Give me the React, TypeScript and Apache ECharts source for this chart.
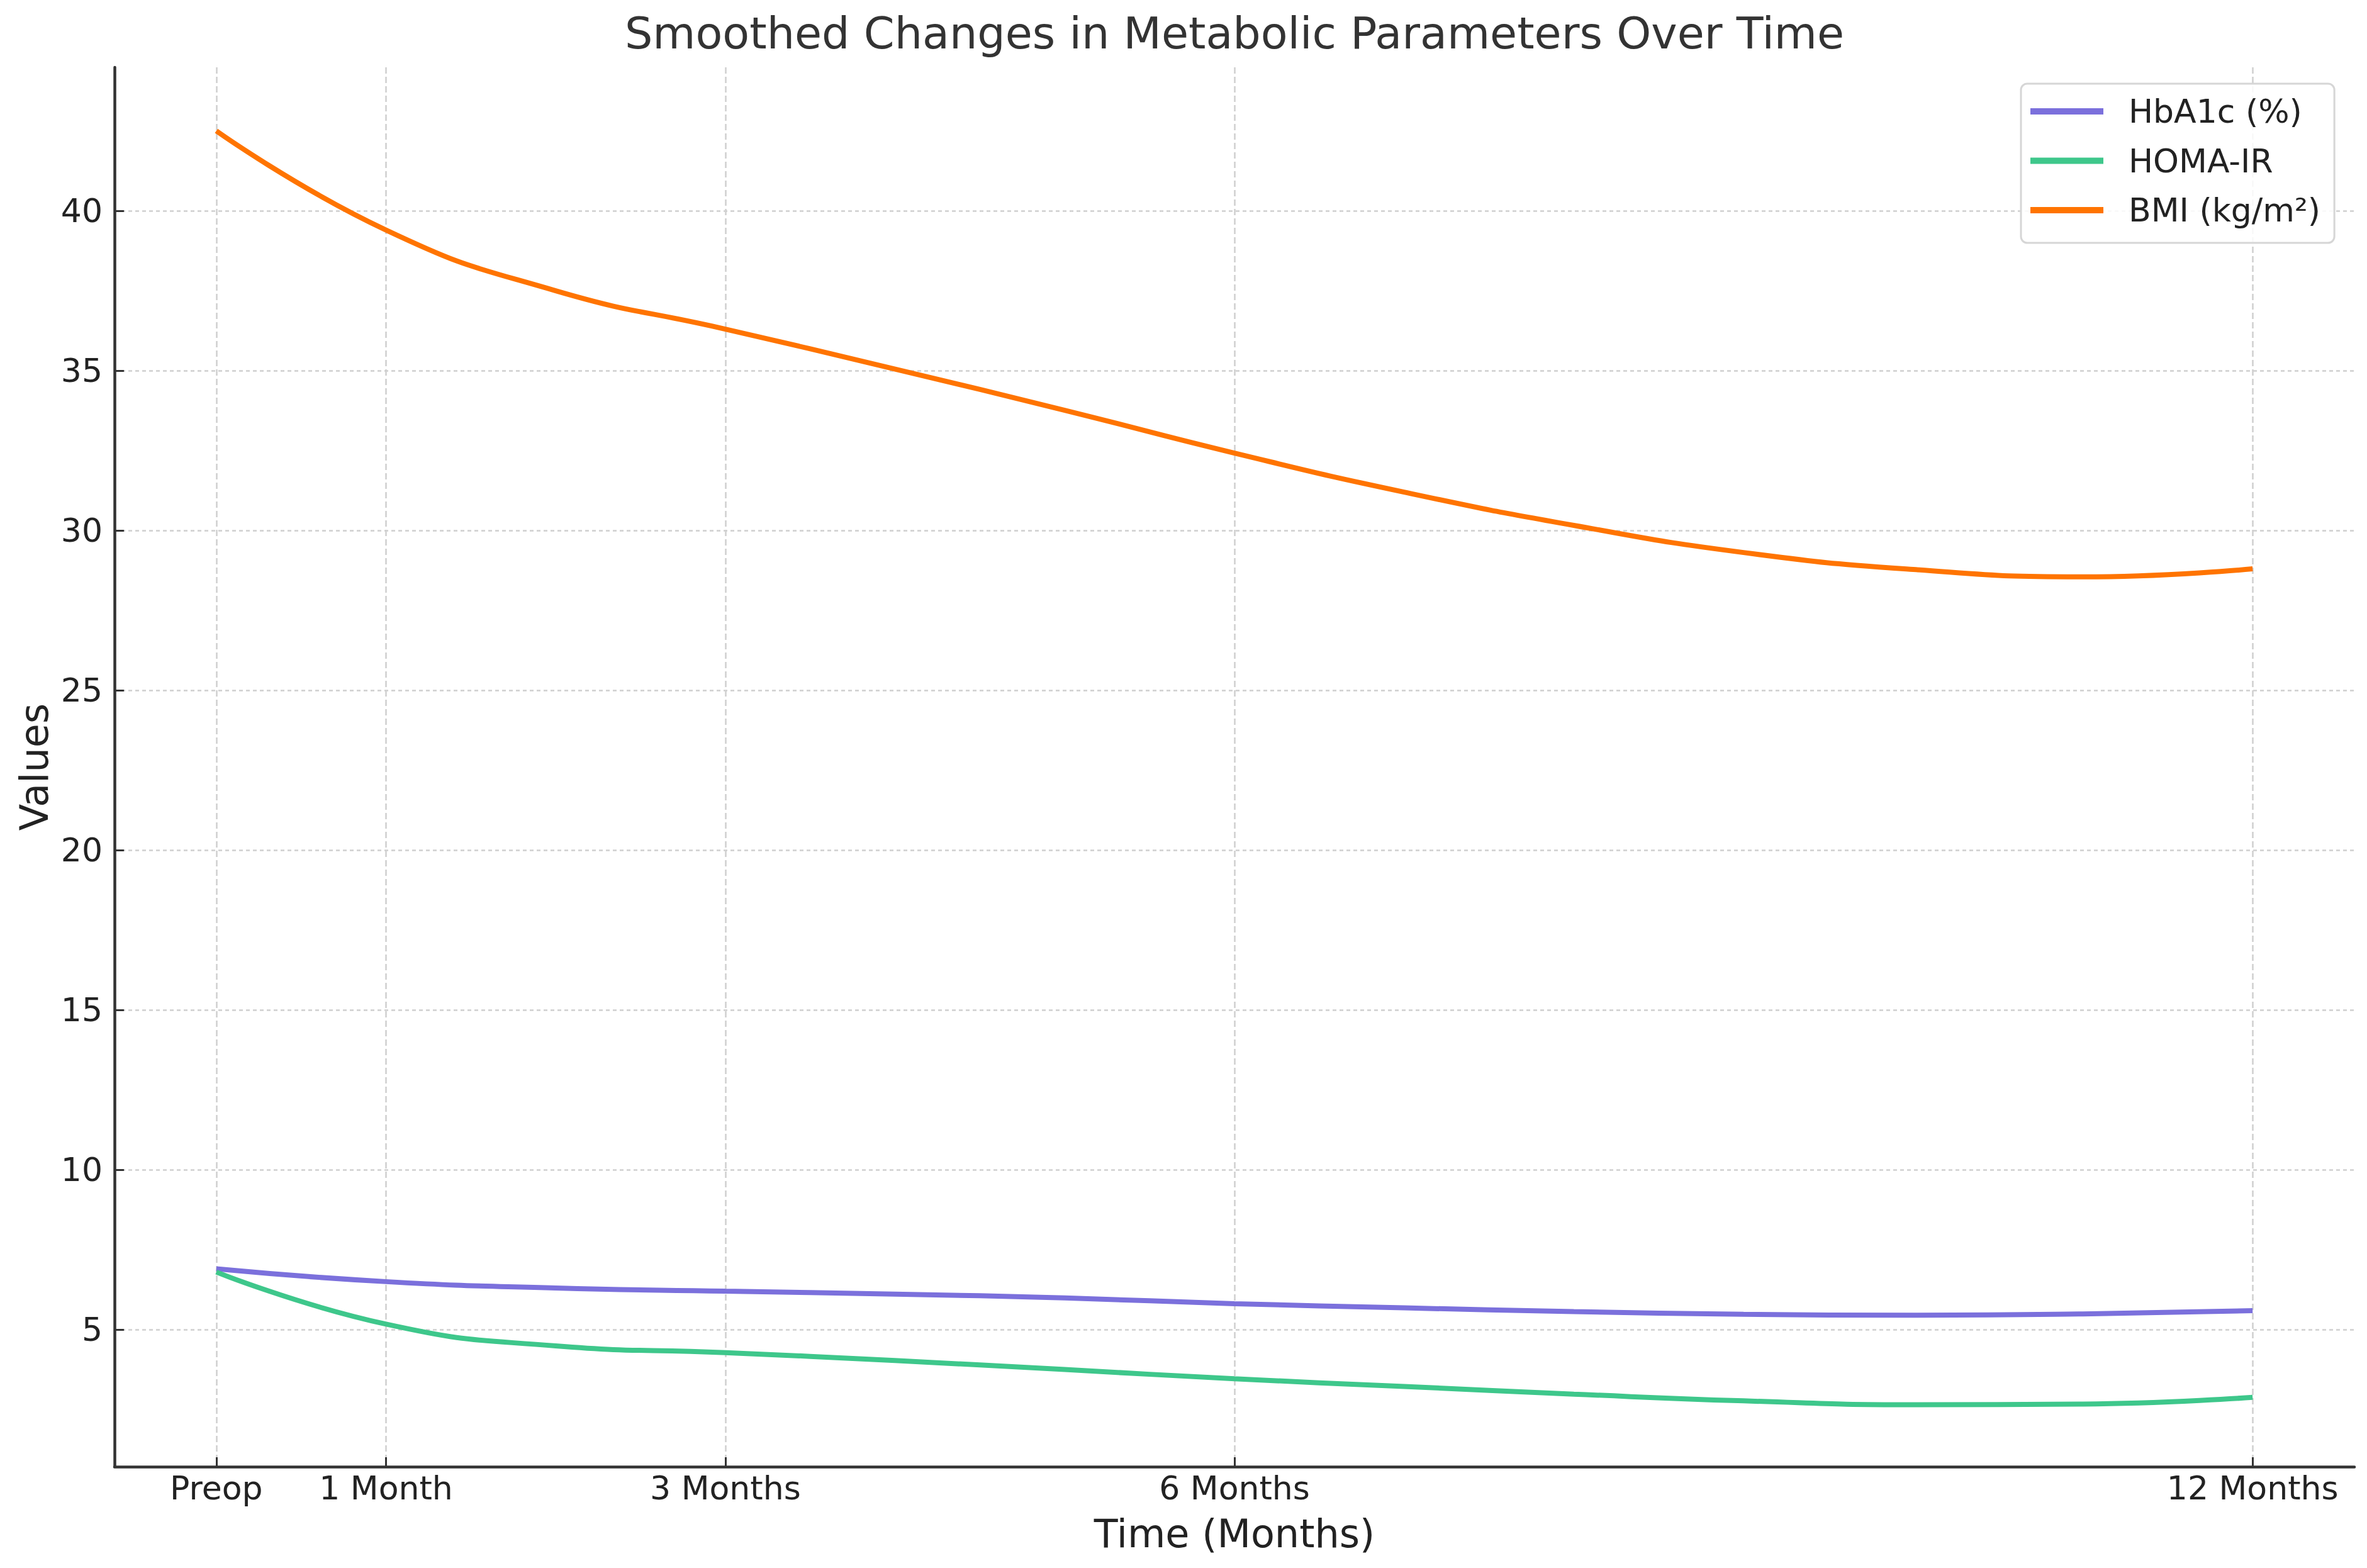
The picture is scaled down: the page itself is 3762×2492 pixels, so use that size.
import React, { useEffect, useRef } from "react";
import * as echarts from "echarts";

// Time points (months)
const months = [0, 1, 2, 3, 4, 5, 6, 7, 8, 9, 10, 11, 12];
const hba1c = [6.9, 6.5, 6.3, 6.2, 6.11, 5.99, 5.81, 5.68, 5.56, 5.48, 5.45, 5.49, 5.59];
const homaIR = [6.8, 5.17, 4.49, 4.28, 4.03, 3.75, 3.46, 3.22, 2.98, 2.77, 2.65, 2.67, 2.88];
const bmi = [42.5, 39.4, 37.5, 36.3, 35.05, 33.76, 32.42, 31.2, 30.16, 29.31, 28.78, 28.55, 28.8];

const seriesNames = ["HbA1c (%)", "HOMA-IR", "BMI (kg/m²)"];
const seriesColors = ["#7b70dc", "#3ec78b", "#ff7400"];

const xTickValues = [0, 1, 3, 6, 12];
const xTickLabels = ["Preop", "1 Month", "3 Months", "6 Months", "12 Months"];
const yTickValues = [5, 10, 15, 20, 25, 30, 35, 40];

const FONT = "DejaVu Sans";

export default function App() {
  const ref = useRef<HTMLDivElement>(null);
  useEffect(() => {
    if (!ref.current) return;
    const chart = echarts.init(ref.current, undefined, { renderer: "svg" });
    const pair = (vals: number[]) => months.map((m, i) => [m, vals[i]]);
    const allSeries = [hba1c, homaIR, bmi];
    const gridLeft = 174;
    const gridRight = 12;
    const width = 3746;
    const plotCenter = gridLeft + (width - gridLeft - gridRight) / 2;
    chart.setOption({
      animation: false,
      backgroundColor: "#ffffff",
      textStyle: { fontFamily: FONT },
      graphic: [
        {
          type: "text",
          x: plotCenter,
          y: 10,
          style: {
            text: "Smoothed Changes in Metabolic Parameters Over Time",
            fontFamily: FONT,
            fontSize: 70,
            fill: "#333333",
            textAlign: "center",
            textVerticalAlign: "top",
          },
        },
      ],
      grid: { left: gridLeft, right: gridRight, top: 99, bottom: 153, containLabel: false },
      legend: {
        orient: "vertical",
        left: 3204,
        top: 125,
        data: seriesNames,
        icon: "rect",
        itemWidth: 116,
        itemHeight: 10,
        itemGap: 18.5,
        padding: [14, 22, 22, 15],
        backgroundColor: "rgba(255,255,255,0.85)",
        borderColor: "#d6d6d6",
        borderWidth: 3,
        borderRadius: 10,
        textStyle: {
          fontFamily: FONT,
          fontSize: 52,
          lineHeight: 60,
          color: "#222222",
          padding: [0, 0, 0, 35],
        },
      },
      xAxis: {
        type: "value",
        min: -0.6,
        max: 12.6,
        name: "Time (Months)",
        nameLocation: "middle",
        nameGap: 75,
        nameTextStyle: { fontFamily: FONT, fontSize: 62, color: "#222222" },
        axisLine: { show: true, onZero: false, lineStyle: { color: "#333333", width: 4.5 } },
        axisTick: {
          show: true,
          inside: true,
          length: 15,
          customValues: xTickValues,
          lineStyle: { color: "#333333", width: 3 },
        },
        axisLabel: {
          customValues: xTickValues,
          fontFamily: FONT,
          fontSize: 52,
          color: "#222222",
          margin: 8,
          formatter: (v: number) => {
            const i = xTickValues.indexOf(v);
            return i >= 0 ? xTickLabels[i] : "";
          },
        },
        splitLine: {
          show: true,
          lineStyle: { color: "#cfcfcf", width: 2.5, type: [10, 5] },
        },
      },
      yAxis: {
        type: "value",
        min: 0.71,
        max: 44.49,
        name: "Values",
        nameLocation: "middle",
        nameGap: 90,
        nameTextStyle: { fontFamily: FONT, fontSize: 62, color: "#222222" },
        axisLine: { show: true, onZero: false, lineStyle: { color: "#333333", width: 4.5 } },
        axisTick: {
          show: true,
          inside: true,
          length: 15,
          customValues: yTickValues,
          lineStyle: { color: "#333333", width: 3 },
        },
        axisLabel: {
          customValues: yTickValues,
          fontFamily: FONT,
          fontSize: 52,
          color: "#222222",
          margin: 19,
        },
        splitLine: {
          show: true,
          lineStyle: { color: "#cfcfcf", width: 2.5, type: [6, 5] },
        },
      },
      series: allSeries.map((vals, i) => ({
        name: seriesNames[i],
        type: "line",
        data: pair(vals),
        smooth: 0.5,
        showSymbol: false,
        symbol: "none",
        lineStyle: { color: seriesColors[i], width: 8 },
        itemStyle: { color: seriesColors[i] },
        z: 3 + i,
      })),
    });
    return () => chart.dispose();
  }, []);
  return <div ref={ref} style={{ width: 3746, height: 2476 }} />;
}
